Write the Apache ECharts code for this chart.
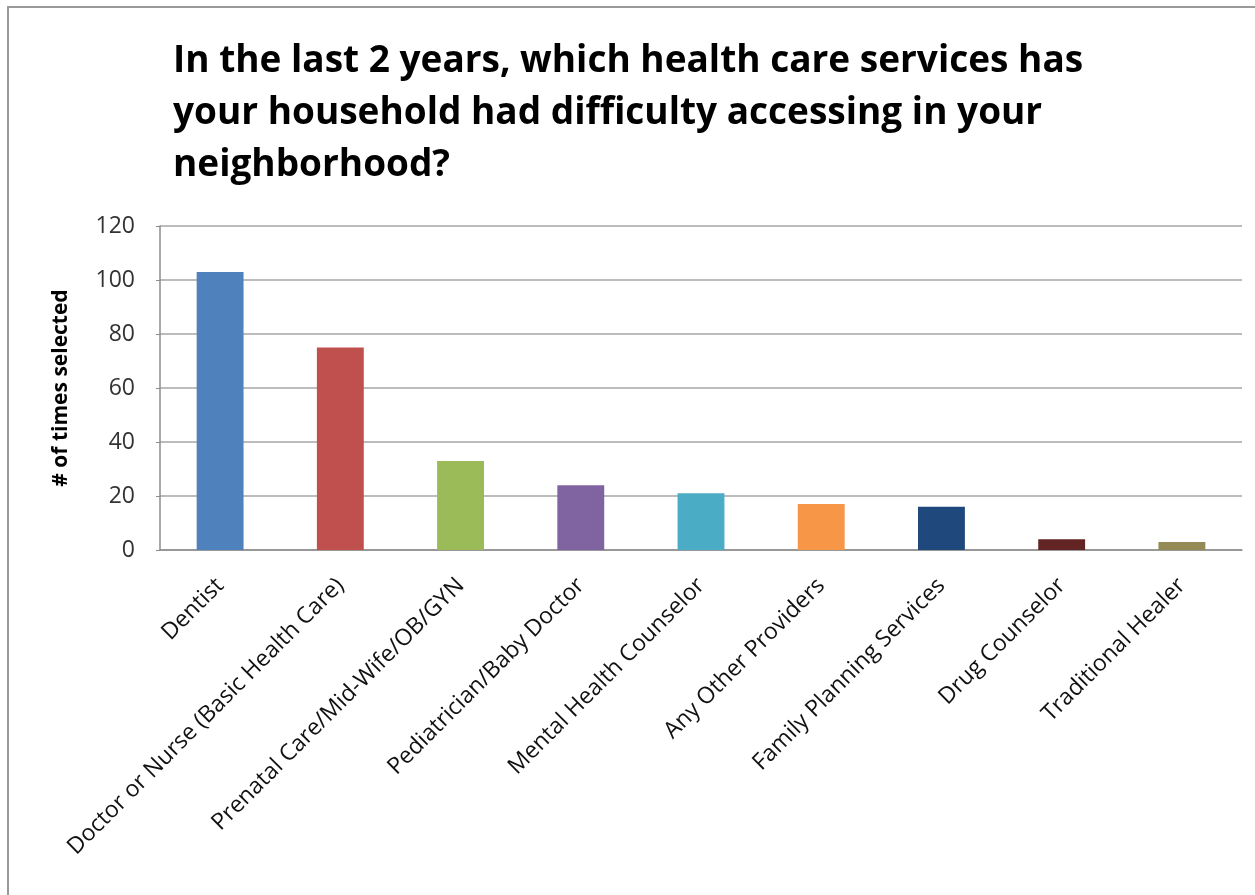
<!DOCTYPE html>
<html>
<head>
<meta charset="utf-8">
<style>
  html, body { margin: 0; padding: 0; background: #ffffff; }
  #chart { width: 1255px; height: 895px; }
</style>
<script src="https://cdn.jsdelivr.net/npm/echarts@6/dist/echarts.min.js"></script>
</head>
<body>
<div id="chart"></div>
<script>
// Health care services households reported difficulty accessing
const categories = [
  'Dentist',
  'Doctor or Nurse (Basic Health Care)',
  'Prenatal Care/Mid-Wife/OB/GYN',
  'Pediatrician/Baby Doctor',
  'Mental Health Counselor',
  'Any Other Providers',
  'Family Planning Services',
  'Drug Counselor',
  'Traditional Healer'
];
const timesSelected = [103, 75, 33, 24, 21, 17, 16, 4, 3];
const barColors = ['#4F81BD', '#C0504D', '#9BBB59', '#8064A2', '#4BACC6', '#F79646', '#1F497D', '#632523', '#948A54'];
const yTicks = { min: 0, max: 120, interval: 20 };
const titleLines = [
  'In the last 2 years, which health care services has',
  'your household had difficulty accessing in your',
  'neighborhood?'
];

const FONT = '"Open Sans", "DejaVu Sans", sans-serif';
const chart = echarts.init(document.getElementById('chart'));

chart.setOption({
  backgroundColor: '#ffffff',
  animation: false,
  title: {
    text: titleLines.join('\n'),
    left: 168,
    top: 30,
    textStyle: {
      fontFamily: FONT,
      fontWeight: 'bold',
      fontSize: 37,
      lineHeight: 52,
      color: '#000000'
    }
  },
  graphic: [{
    type: 'rect',
    shape: { x: 8, y: 7, width: 1260, height: 900 },
    style: { fill: 'none', stroke: '#9a9a9a', lineWidth: 2 },
    silent: true
  }],
  grid: { left: 160, right: 13, top: 226, bottom: 345 },
  xAxis: {
    type: 'category',
    data: categories,
    axisLine: { lineStyle: { color: '#8c8c8c', width: 1.5 } },
    axisTick: { show: false },
    axisLabel: {
      rotate: 45,
      interval: 0,
      margin: 32,
      fontFamily: FONT,
      fontSize: 23,
      color: '#111111'
    }
  },
  yAxis: {
    type: 'value',
    min: yTicks.min,
    max: yTicks.max,
    interval: yTicks.interval,
    name: '# of times selected',
    nameLocation: 'middle',
    nameGap: 88,
    nameRotate: 90,
    nameTextStyle: {
      fontFamily: FONT,
      fontWeight: 'bold',
      fontSize: 21,
      color: '#000000'
    },
    axisLine: { show: true, lineStyle: { color: '#8c8c8c', width: 1.5 } },
    axisTick: { show: true, length: 4, lineStyle: { color: '#8c8c8c' } },
    axisLabel: {
      margin: 25,
      fontFamily: FONT,
      fontSize: 23,
      color: '#333333'
    },
    splitLine: { lineStyle: { color: '#a6a6a6', width: 1.5 } }
  },
  series: [{
    type: 'bar',
    data: timesSelected.map((v, i) => ({ value: v, itemStyle: { color: barColors[i] } })),
    barWidth: '39%'
  }]
});
</script>
</body>
</html>
